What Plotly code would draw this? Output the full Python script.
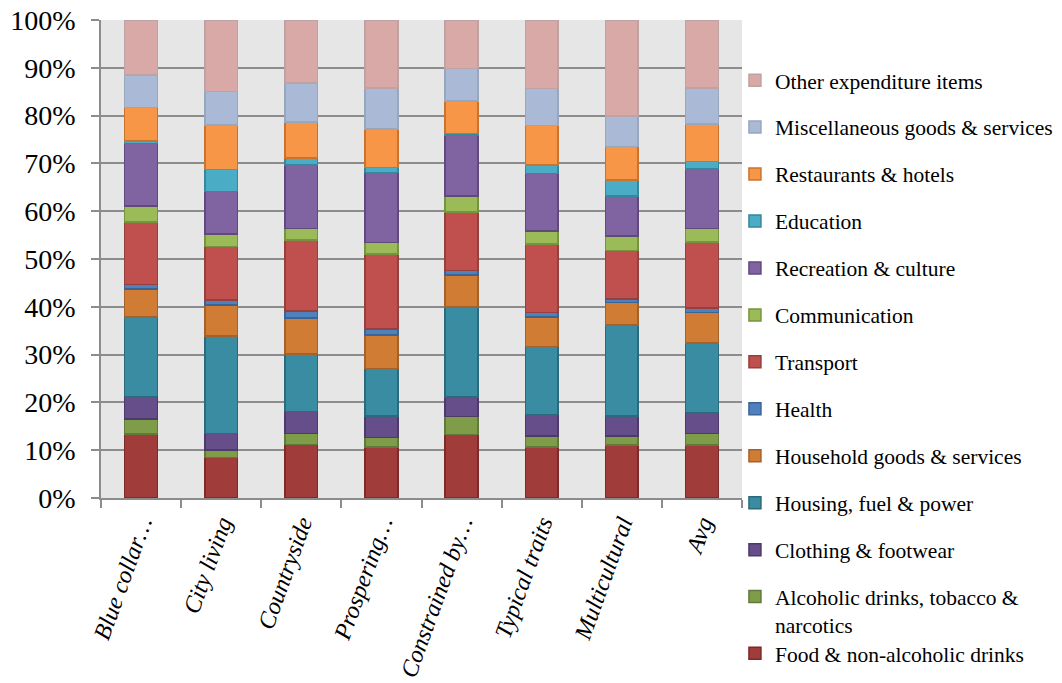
import plotly.graph_objects as go

categories = ["Blue collar…", "City living", "Countryside", "Prospering…",
              "Constrained by…", "Typical traits", "Multicultural", "Avg"]

series_names = [
    "Food & non-alcoholic drinks",
    "Alcoholic drinks, tobacco &<br>narcotics",
    "Clothing & footwear",
    "Housing, fuel & power",
    "Household goods & services",
    "Health",
    "Transport",
    "Communication",
    "Recreation & culture",
    "Education",
    "Restaurants & hotels",
    "Miscellaneous goods & services",
    "Other expenditure items",
]

food        = [13.4, 8.5, 11.2, 10.7, 13.3, 10.7, 11.1, 11.1]
alcohol     = [3.1, 1.5, 2.3, 2.0, 3.7, 2.3, 1.9, 2.4]
clothing    = [4.7, 3.5, 4.6, 4.5, 4.1, 4.5, 4.2, 4.4]
housing     = [16.7, 20.4, 12.0, 9.9, 18.9, 14.2, 19.0, 14.5]
household   = [5.8, 6.5, 7.6, 7.0, 6.7, 6.2, 4.7, 6.4]
health      = [1.0, 1.0, 1.4, 1.3, 0.9, 0.9, 0.7, 1.0]
transport   = [13.0, 11.2, 14.9, 15.6, 12.2, 14.3, 10.2, 13.8]
communic    = [3.4, 2.6, 2.4, 2.5, 3.4, 2.8, 3.0, 2.8]
recreation  = [13.1, 8.9, 13.3, 14.6, 12.7, 12.0, 8.4, 12.4]
education   = [0.5, 4.6, 1.4, 1.0, 0.4, 1.8, 3.3, 1.6]
restaurants = [7.0, 9.3, 7.6, 8.1, 6.8, 8.2, 7.0, 7.8]
misc        = [6.8, 7.0, 8.1, 8.6, 6.8, 7.8, 6.4, 7.6]
other       = [11.5, 15.0, 13.2, 14.2, 10.1, 14.3, 20.1, 14.2]

series_values = [food, alcohol, clothing, housing, household, health, transport,
                 communic, recreation, education, restaurants, misc, other]

fills = ["#A03D3B", "#7F9C48", "#664E8A", "#3A8CA3", "#D07C35", "#4F81BD", "#C0504D",
         "#9BBB59", "#8064A2", "#4BACC6", "#F79646", "#A9B9D6", "#D9A9A8"]
borders = ["#7A2B2A", "#61793A", "#4C3A68", "#2B6A7C", "#A5612A", "#3A6397", "#94403D",
           "#77933F", "#5F4A7B", "#35879C", "#C8742F", "#98A6BE", "#BDA3A3"]

tick_vals = list(range(0, 101, 10))
tick_text = [f"{v}%" for v in tick_vals]

FONT = "Liberation Serif"
n = len(series_names)

fig = go.Figure()
for i, (name, vals) in enumerate(zip(series_names, series_values)):
    fig.add_trace(go.Bar(
        x=categories, y=vals, name=name,
        marker=dict(color=fills[i], line=dict(color=borders[i], width=1.5)),
        legend="legend2" if i == 0 else "legend",
        legendgroup=f"g{i}",
        legendrank=n - i,
    ))

fig.update_layout(
    barmode="stack",
    barnorm="percent",
    bargap=0.59,
    width=1062, height=683,
    margin=dict(l=101, r=320, t=20, b=185, autoexpand=False),
    paper_bgcolor="white",
    plot_bgcolor="#E6E6E6",
    font=dict(family=FONT, color="black"),
    legend=dict(
        x=0.989, y=0.917, xanchor="left", yanchor="top",
        traceorder="grouped", tracegroupgap=16,
        font=dict(family=FONT, size=21.5, color="black"),
        bgcolor="rgba(0,0,0,0)", valign="top", maxheight=680,
    ),
    legend2=dict(
        x=0.989, y=-0.282, xanchor="left", yanchor="top",
        font=dict(family=FONT, size=21.5, color="black"),
        bgcolor="rgba(0,0,0,0)",
    ),
)

fig.update_yaxes(
    range=[0, 100], tickvals=tick_vals, ticktext=tick_text,
    showgrid=True, gridcolor="#8C8C8C", gridwidth=1.5,
    showline=True, linecolor="#8C8C8C", linewidth=1.5,
    ticks="outside", ticklen=8, tickcolor="#8C8C8C", tickwidth=1.5,
    tickfont=dict(family=FONT, size=28, color="black"),
    zeroline=False, ticklabelstandoff=10, automargin=False,
)
fig.update_xaxes(
    showline=True, linecolor="#8C8C8C", linewidth=1.5,
    ticks="outside", ticklen=8, tickcolor="#8C8C8C", tickwidth=1.5,
    tickson="boundaries", tickangle=-70,
    tickfont=dict(family=FONT, size=24, color="black", style="italic"),
    showgrid=False, automargin=False,
)

fig.write_html("out.html", config={"displayModeBar": False},
               post_script="document.body.style.margin='0';document.body.style.overflow='hidden';")
